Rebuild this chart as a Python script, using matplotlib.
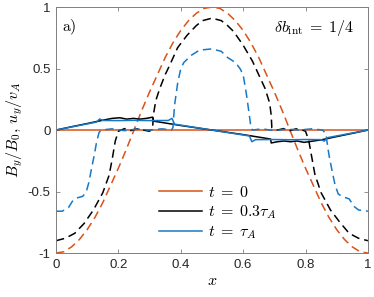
import numpy as np
import matplotlib
matplotlib.use("Agg")
import matplotlib.pyplot as plt

plt.rcParams['mathtext.fontset'] = 'cm'
plt.rcParams['font.family'] = ['Liberation Sans', 'DejaVu Sans']
plt.rcParams['axes.unicode_minus'] = False

orange = '#D95319'
blue = '#1679C8'
black = '#000000'

# t = 0 : velocity (dashed) and field (solid)
x0 = np.linspace(0, 1, 41)
u0 = [-1.00, -0.99, -0.95, -0.89, -0.81, -0.71, -0.59, -0.45, -0.31, -0.16, 0.00,
      0.16, 0.31, 0.45, 0.59, 0.71, 0.81, 0.89, 0.95, 0.99, 1.00,
      0.99, 0.95, 0.89, 0.81, 0.71, 0.59, 0.45, 0.31, 0.16, 0.00,
      -0.16, -0.31, -0.45, -0.59, -0.71, -0.81, -0.89, -0.95, -0.99, -1.00]
xb0 = [0, 1]
b0 = [0, 0]

# t = 0.3 tau_A
xu1 = [0, 0.03, 0.06, 0.09, 0.12, 0.15, 0.17, 0.18, 0.19, 0.20, 0.22, 0.24, 0.26,
       0.28, 0.30, 0.31, 0.312, 0.32, 0.333, 0.35, 0.365, 0.39, 0.42, 0.45, 0.47, 0.5,
       0.53, 0.55, 0.57, 0.60, 0.63, 0.65, 0.67, 0.685, 0.69, 0.692, 0.71, 0.73, 0.75,
       0.77, 0.79, 0.80, 0.81, 0.82, 0.83, 0.85, 0.88, 0.91, 0.94, 0.97, 1.0]
u1 = [-0.90, -0.88, -0.84, -0.76, -0.65, -0.51, -0.37, -0.24, -0.09, -0.01, 0.012, -0.004, 0.01,
      0.0, -0.01, 0.02, 0.12, 0.24, 0.34, 0.45, 0.53, 0.67, 0.77, 0.85, 0.89, 0.91,
      0.89, 0.85, 0.80, 0.69, 0.56, 0.45, 0.34, 0.22, 0.12, 0.02, 0.0, 0.012, -0.004,
      0.01, 0.0, -0.01, -0.08, -0.22, -0.36, -0.51, -0.65, -0.75, -0.84, -0.88, -0.90]
xb1 = [0, 0.05, 0.10, 0.15, 0.18, 0.205, 0.227, 0.248, 0.269, 0.29, 0.31, 0.312,
       0.40, 0.50, 0.60, 0.688, 0.69, 0.71, 0.731, 0.752, 0.773, 0.795, 0.81,
       0.85, 0.90, 0.95, 1.0]
b1 = [0, 0.027, 0.053, 0.08, 0.095, 0.10, 0.089, 0.095, 0.089, 0.095, 0.105, 0.073,
      0.037, 0.0, -0.037, -0.073, -0.105, -0.095, -0.089, -0.095, -0.089, -0.10, -0.095,
      -0.08, -0.053, -0.027, 0]

# t = tau_A
xu2 = [0, 0.02, 0.04, 0.055, 0.07, 0.085, 0.096, 0.105, 0.115, 0.123, 0.13, 0.138,
       0.145, 0.18, 0.22, 0.26, 0.30, 0.34, 0.37, 0.375, 0.38, 0.39, 0.40, 0.41, 0.435,
       0.46, 0.5, 0.53, 0.55, 0.575, 0.59, 0.60, 0.61, 0.62, 0.625, 0.63, 0.66, 0.70,
       0.74, 0.78, 0.82, 0.855, 0.865, 0.875, 0.885, 0.895, 0.905, 0.917, 0.94, 0.955,
       0.97, 1.0]
u2 = [-0.66, -0.66, -0.63, -0.57, -0.55, -0.54, -0.51, -0.43, -0.30, -0.20, -0.10, -0.02,
      0.0, 0.01, -0.005, 0.008, 0.0, 0.01, 0.0, 0.02, 0.20, 0.38, 0.50, 0.55, 0.61,
      0.65, 0.66, 0.64, 0.59, 0.55, 0.50, 0.45, 0.30, 0.12, 0.02, 0.0, 0.01, -0.005,
      0.008, 0.0, 0.01, 0.0, -0.03, -0.20, -0.33, -0.45, -0.52, -0.54, -0.56, -0.62,
      -0.65, -0.66]
xb2 = [0, 0.13, 0.14, 0.15, 0.20, 0.25, 0.30, 0.36, 0.372, 0.38, 0.50, 0.62, 0.628,
       0.64, 0.70, 0.75, 0.80, 0.85, 0.86, 0.87, 1.0]
b2 = [0, 0.065, 0.09, 0.078, 0.077, 0.079, 0.077, 0.078, 0.095, 0.048, 0.0, -0.048, -0.095,
      -0.078, -0.077, -0.079, -0.077, -0.078, -0.09, -0.062, 0]

fig = plt.figure(figsize=(3.74, 2.97), dpi=100)
ax = fig.add_axes([0.1497, 0.1481, 0.834, 0.828])

dash = (0, (5.5, 3.2))
lw = 1.1
ax.plot(x0, u0, color=orange, lw=lw, ls=dash)
ax.plot(xb0, b0, color=orange, lw=lw, label=r'$t\;=\;0$')
ax.plot(xu1, u1, color=black, lw=lw, ls=dash)
ax.plot(xb1, b1, color=black, lw=lw, label=r'$t\;=\;0.3\tau_A$')
ax.plot(xu2, u2, color=blue, lw=lw, ls=dash)
ax.plot(xb2, b2, color=blue, lw=lw, label=r'$t\;=\;\tau_A$')

ax.set_xlim(0, 1)
ax.set_ylim(-1, 1)
ax.set_xticks([0, 0.2, 0.4, 0.6, 0.8, 1])
ax.set_xticklabels(['0', '0.2', '0.4', '0.6', '0.8', '1'])
ax.set_yticks([-1, -0.5, 0, 0.5, 1])
ax.set_yticklabels(['-1', '-0.5', '0', '0.5', '1'])
ax.tick_params(direction='in', top=True, right=True, length=3, width=0.6,
               labelsize=9.5, colors='#7f7f7f', labelcolor='#262626', pad=4)
for s in ax.spines.values():
    s.set_color('#7f7f7f')
    s.set_linewidth(0.7)

ax.set_xlabel(r'$x$', fontsize=11.5, labelpad=2)
ax.set_ylabel(r'$B_y/B_0,\, u_y/v_A$', fontsize=11.5, labelpad=2)

ax.text(0.02, 0.955, r'$\mathrm{a)}$', transform=ax.transAxes, fontsize=11.5, va='top')
ax.text(0.955, 0.955, r'$\delta b_{\rm int}\;=\;1/4$', transform=ax.transAxes,
        fontsize=11.5, va='top', ha='right')

ax.legend(loc='center left', bbox_to_anchor=(0.29, 0.163), frameon=False,
          fontsize=11.5, handlelength=2.7, handletextpad=0.35, labelspacing=0.2,
          borderpad=0.3)

fig.savefig('out.png', dpi=100)
